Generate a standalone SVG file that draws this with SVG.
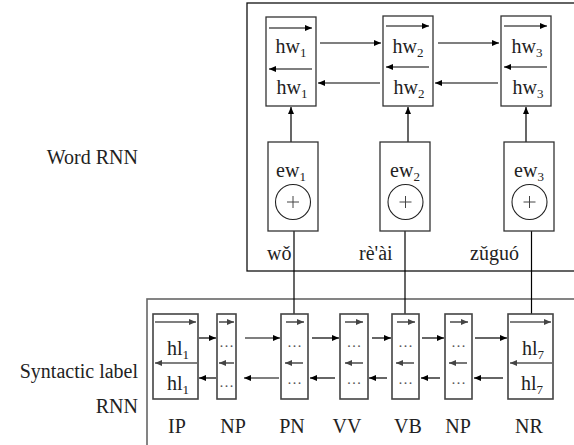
<svg xmlns="http://www.w3.org/2000/svg" width="574" height="445" viewBox="0 0 574 445">
<defs>
<marker id="ah" markerWidth="7" markerHeight="6" refX="7" refY="3" orient="auto" markerUnits="userSpaceOnUse"><path d="M0,0 L7,3 L0,6 z" fill="#000"/></marker>
<marker id="ahg" markerWidth="7" markerHeight="6" refX="7" refY="3" orient="auto" markerUnits="userSpaceOnUse"><path d="M0,0 L7,3 L0,6 z" fill="#444"/></marker>
</defs>
<style>
text{font-family:'Liberation Serif',serif;fill:#222;}
.t{font-size:20px;}
.s{font-size:13px;}
.dots{font-size:15px;fill:#555;}
.box{fill:#fff;stroke:#333;stroke-width:1.3;}
.sbox{fill:#fff;stroke:#444;stroke-width:1.6;}
.a{stroke:#000;stroke-width:1.2;fill:none;marker-end:url(#ah);}
.ag{stroke:#555;stroke-width:1.6;fill:none;marker-end:url(#ahg);}
.circ{fill:#fff;stroke:#222;stroke-width:1.1;}
.plus{stroke:#444;stroke-width:1;fill:none;}
</style>
<rect id="word-rnn" x="247" y="3" width="340" height="268" fill="none" stroke="#111" stroke-width="1.3"/>
<rect id="syntactic-rnn" x="147" y="299" width="440" height="160" fill="none" stroke="#666" stroke-width="1.6"/>
<text class="t" x="138" y="164" text-anchor="end">Word RNN</text>
<text class="t" x="138" y="378" text-anchor="end">Syntactic label</text>
<text class="t" x="138" y="413" text-anchor="end">RNN</text>

<g id="connectors">
<line class="a" x1="320" y1="43" x2="381" y2="43"/>
<line class="a" x1="438" y1="43" x2="499" y2="43"/>
<line class="a" x1="380" y1="83" x2="318" y2="83"/>
<line class="a" x1="498" y1="83" x2="435" y2="83"/>
<line class="a" x1="291" y1="142" x2="291" y2="107"/>
<line class="a" x1="408" y1="142" x2="408" y2="107"/>
<line class="a" x1="526" y1="142" x2="526" y2="107"/>
<line class="a" x1="294" y1="314" x2="294" y2="220"/>
<line class="a" x1="405" y1="314" x2="405" y2="220"/>
<line class="a" x1="531.5" y1="314" x2="531.5" y2="219"/>
<line class="a" x1="199" y1="338" x2="216" y2="338"/>
<line class="a" x1="245" y1="338" x2="280" y2="338"/>
<line class="a" x1="312" y1="338" x2="339" y2="338"/>
<line class="a" x1="372" y1="338" x2="391" y2="338"/>
<line class="a" x1="422" y1="338" x2="444" y2="338"/>
<line class="a" x1="475" y1="338" x2="507" y2="338"/>
<line class="a" x1="216" y1="378" x2="199" y2="378"/>
<line class="a" x1="279" y1="378" x2="244" y2="378"/>
<line class="a" x1="335" y1="378" x2="310" y2="378"/>
<line class="a" x1="387" y1="378" x2="369" y2="378"/>
<line class="a" x1="440" y1="378" x2="421" y2="378"/>
<line class="a" x1="503" y1="378" x2="474" y2="378"/>
</g>

<g id="hw1">
<rect class="box" x="266" y="17" width="50" height="89"/>
<line class="a" x1="269" y1="28" x2="312" y2="28"/>
<line class="a" x1="312" y1="69" x2="269" y2="69"/>
<text class="t" x="291" y="53" text-anchor="middle">hw<tspan class="s" dy="4">1</tspan></text>
<text class="t" x="292" y="94" text-anchor="middle">hw<tspan class="s" dy="4">1</tspan></text>
</g>
<g id="hw2">
<rect class="box" x="383" y="16" width="50" height="90"/>
<line class="a" x1="386" y1="26" x2="429" y2="26"/>
<line class="a" x1="429" y1="67" x2="386" y2="67"/>
<text class="t" x="408" y="53" text-anchor="middle">hw<tspan class="s" dy="4">2</tspan></text>
<text class="t" x="409" y="94" text-anchor="middle">hw<tspan class="s" dy="4">2</tspan></text>
</g>
<g id="hw3">
<rect class="box" x="501" y="16" width="50" height="90"/>
<line class="a" x1="504" y1="26" x2="547" y2="26"/>
<line class="a" x1="547" y1="67" x2="504" y2="67"/>
<text class="t" x="527" y="53" text-anchor="middle">hw<tspan class="s" dy="4">3</tspan></text>
<text class="t" x="528" y="94" text-anchor="middle">hw<tspan class="s" dy="4">3</tspan></text>
</g>

<g id="ew1">
<rect class="box" x="268" y="142" width="50" height="89"/>
<text class="t" x="291" y="177" text-anchor="middle">ew<tspan class="s" dy="4">1</tspan></text>
<circle class="circ" cx="293" cy="202" r="17.5"/>
<path class="plus" d="M287,202 H299 M293,196 V208"/>
</g>
<g id="ew2">
<rect class="box" x="380" y="142" width="50" height="89"/>
<text class="t" x="405" y="177" text-anchor="middle">ew<tspan class="s" dy="4">2</tspan></text>
<circle class="circ" cx="405.5" cy="202" r="17.5"/>
<path class="plus" d="M399.5,202 H411.5 M405.5,196 V208"/>
</g>
<g id="ew3">
<rect class="box" x="504" y="142" width="50" height="89"/>
<text class="t" x="529" y="177" text-anchor="middle">ew<tspan class="s" dy="4">3</tspan></text>
<circle class="circ" cx="529.5" cy="202" r="17.5"/>
<path class="plus" d="M523.5,202 H535.5 M529.5,196 V208"/>
</g>

<text class="t" x="267" y="260">wǒ</text>
<text class="t" x="359" y="260">rè'ài</text>
<text class="t" x="470" y="260">zǔguó</text>

<g id="IP">
<rect class="sbox" x="153" y="314" width="45" height="85"/>
<line class="ag" x1="155" y1="322" x2="196" y2="322"/>
<line class="ag" x1="197" y1="363" x2="155" y2="363"/>
<text class="t" x="178" y="355" text-anchor="middle">hl<tspan class="s" dy="4">1</tspan></text>
<text class="t" x="178" y="390" text-anchor="middle">hl<tspan class="s" dy="4">1</tspan></text>
<text class="t" x="177" y="433" text-anchor="middle">IP</text>
</g>
<g id="NP1">
<rect class="sbox" x="217" y="314" width="19" height="85"/>
<line class="ag" x1="219" y1="322" x2="234" y2="322"/>
<line class="ag" x1="234" y1="363" x2="219" y2="363"/>
<text class="dots" x="226.5" y="347" text-anchor="middle">…</text>
<text class="dots" x="226.5" y="387" text-anchor="middle">…</text>
<text class="t" x="233" y="433" text-anchor="middle">NP</text>
</g>
<g id="PN">
<rect class="sbox" x="281" y="314" width="27" height="85"/>
<line class="ag" x1="286" y1="322" x2="304" y2="322"/>
<line class="ag" x1="303" y1="363" x2="285" y2="363"/>
<text class="dots" x="294.5" y="347" text-anchor="middle">…</text>
<text class="dots" x="294.5" y="384" text-anchor="middle">…</text>
<text class="t" x="292" y="433" text-anchor="middle">PN</text>
</g>
<g id="VV">
<rect class="sbox" x="340" y="314" width="28" height="85"/>
<line class="ag" x1="345" y1="322" x2="363" y2="322"/>
<line class="ag" x1="363" y1="363" x2="345" y2="363"/>
<text class="dots" x="354" y="347" text-anchor="middle">…</text>
<text class="dots" x="354" y="384" text-anchor="middle">…</text>
<text class="t" x="347" y="433" text-anchor="middle">VV</text>
</g>
<g id="VB">
<rect class="sbox" x="392" y="314" width="27" height="85"/>
<line class="ag" x1="397" y1="322" x2="415" y2="322"/>
<line class="ag" x1="414" y1="363" x2="396" y2="363"/>
<text class="dots" x="405.5" y="347" text-anchor="middle">…</text>
<text class="dots" x="405.5" y="384" text-anchor="middle">…</text>
<text class="t" x="408" y="433" text-anchor="middle">VB</text>
</g>
<g id="NP2">
<rect class="sbox" x="445" y="314" width="27" height="85"/>
<line class="ag" x1="450" y1="322" x2="468" y2="322"/>
<line class="ag" x1="467" y1="363" x2="449" y2="363"/>
<text class="dots" x="458.5" y="347" text-anchor="middle">…</text>
<text class="dots" x="458.5" y="384" text-anchor="middle">…</text>
<text class="t" x="458" y="433" text-anchor="middle">NP</text>
</g>
<g id="NR">
<rect class="sbox" x="508" y="314" width="45" height="85"/>
<line class="ag" x1="510" y1="322" x2="551" y2="322"/>
<line class="ag" x1="552" y1="363" x2="510" y2="363"/>
<text class="t" x="533" y="355" text-anchor="middle">hl<tspan class="s" dy="4">7</tspan></text>
<text class="t" x="532" y="390" text-anchor="middle">hl<tspan class="s" dy="4">7</tspan></text>
<text class="t" x="529" y="433" text-anchor="middle">NR</text>
</g>
</svg>
